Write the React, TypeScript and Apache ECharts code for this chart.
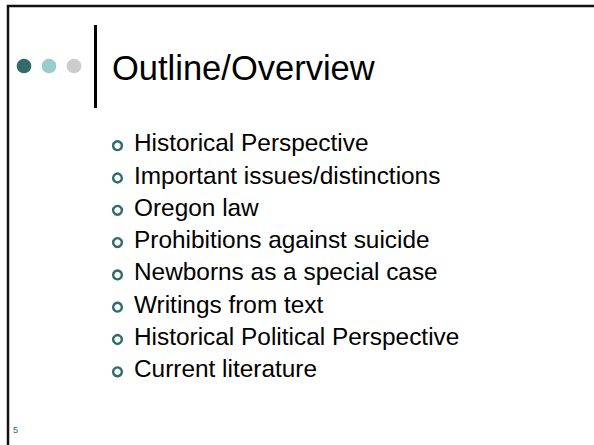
import React, { useEffect, useRef } from "react";
import * as echarts from "echarts";

const title = "Outline/Overview";
const bullets = [
  "Historical Perspective",
  "Important issues/distinctions",
  "Oregon law",
  "Prohibitions against suicide",
  "Newborns as a special case",
  "Writings from text",
  "Historical Political Perspective",
  "Current literature",
];
const dotColors = ["#336B6B", "#99CCCC", "#CCCCCC"];
const slideNumber = "5";

const FONT = "'Liberation Sans', Arial, Helvetica, sans-serif";

export default function App() {
  const ref = useRef<HTMLDivElement>(null);
  useEffect(() => {
    if (!ref.current) return;
    const chart = echarts.init(ref.current, undefined, { renderer: "svg" });
    const els: any[] = [];
    // border
    els.push({
      type: "polyline",
      shape: { points: [[8, 445], [8, 6], [594, 6]] },
      style: { fill: "none", stroke: "#111", lineWidth: 2.5 },
    });
    // dots
    dotColors.forEach((c, i) => {
      els.push({
        type: "circle",
        shape: { cx: 24 + i * 25, cy: 66, r: 7.3 },
        style: { fill: c },
      });
    });
    // vertical line
    els.push({
      type: "line",
      shape: { x1: 95.5, y1: 25, x2: 95.5, y2: 108 },
      style: { stroke: "#000", lineWidth: 3 },
    });
    // title
    const tf = 34.5;
    els.push({
      type: "text",
      x: 112,
      y: 80 - tf * 0.36,
      style: {
        text: title,
        font: `${tf}px ${FONT}`,
        fill: "#000",
        verticalAlign: "middle",
        align: "left",
      },
    });
    // bullets
    const bf = 24.4;
    bullets.forEach((b, i) => {
      const base = 151.5 + i * 32.3;
      els.push({
        type: "circle",
        shape: { cx: 117.5, cy: base - 5.8, r: 4.4 },
        style: { fill: "none", stroke: "#2F6B6B", lineWidth: 2.4 },
      });
      els.push({
        type: "text",
        x: 134,
        y: base - bf * 0.36,
        style: {
          text: b,
          font: `${bf}px ${FONT}`,
          fill: "#000",
          verticalAlign: "middle",
          align: "left",
        },
      });
    });
    // slide number
    els.push({
      type: "text",
      x: 13,
      y: 430,
      style: {
        text: slideNumber,
        font: `9px ${FONT}`,
        fill: "#336B6B",
        verticalAlign: "middle",
        align: "left",
      },
    });
    chart.setOption({
      animation: false,
      backgroundColor: "#fff",
      graphic: { elements: els },
    });
    return () => chart.dispose();
  }, []);
  return (
    <div
      ref={ref}
      style={{ position: "fixed", left: 0, top: 0, width: 594, height: 445, background: "#fff" }}
    />
  );
}
